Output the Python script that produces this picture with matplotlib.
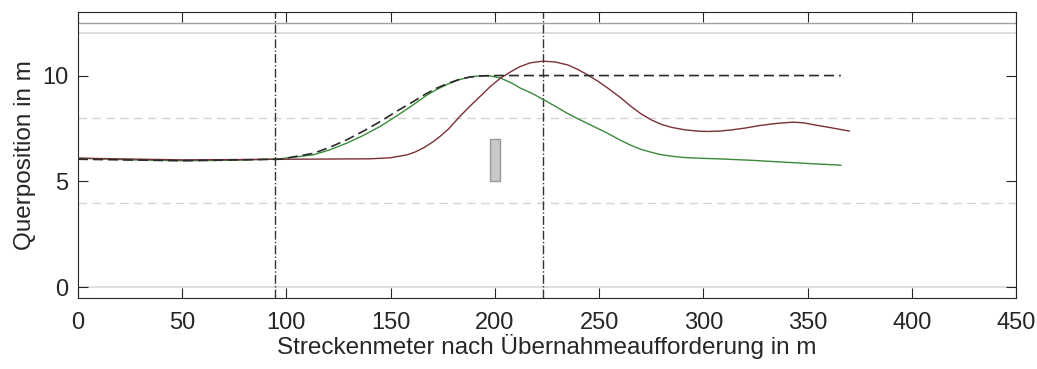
import matplotlib.pyplot as plt
from matplotlib.patches import Rectangle

plt.rcParams['font.family'] = ['Liberation Sans', 'DejaVu Sans']

## Data
# green trajectory
green_x = [0, 25, 50, 75, 97, 113, 121, 129, 137, 145, 153, 161, 167, 172, 178,
           183, 188, 193, 198, 203, 208, 212, 218, 223, 229, 234, 239, 244, 249,
           254, 260, 265, 270, 275, 279, 285, 291, 300, 307, 323, 339, 352, 366]
green_y = [6.1, 6.02, 5.98, 6.0, 6.07, 6.26, 6.5, 6.81, 7.18, 7.6, 8.1, 8.63, 9.05,
           9.34, 9.62, 9.81, 9.93, 9.99, 9.98, 9.87, 9.65, 9.42, 9.15, 8.88, 8.55,
           8.26, 8.0, 7.76, 7.52, 7.28, 6.96, 6.72, 6.52, 6.38, 6.28, 6.19, 6.13,
           6.09, 6.07, 6.0, 5.91, 5.84, 5.77]

# dashed reference trajectory
ref_x = [0, 50, 97, 113, 121, 129, 137, 145, 153, 161, 167, 172, 178, 183, 188,
         193, 198, 366]
ref_y = [6.05, 5.98, 6.05, 6.33, 6.62, 6.97, 7.38, 7.83, 8.32, 8.78, 9.14, 9.4,
         9.65, 9.82, 9.93, 9.98, 10.0, 10.0]

# red trajectory
red_x = [0, 50, 100, 140, 150, 158, 162, 166, 170, 174, 178, 183, 188, 193, 198,
         203, 208, 212, 217, 223, 229, 235, 240, 244, 249, 254, 260, 265, 270,
         275, 280, 285, 291, 297, 302, 308, 314, 320, 327, 335, 343, 348, 354,
         360, 365, 370]
red_y = [6.1, 6.02, 6.05, 6.07, 6.12, 6.26, 6.4, 6.6, 6.85, 7.15, 7.5, 8.05, 8.55,
         9.02, 9.5, 9.9, 10.2, 10.42, 10.6, 10.68, 10.64, 10.5, 10.28, 10.06,
         9.76, 9.42, 8.98, 8.57, 8.2, 7.91, 7.69, 7.55, 7.44, 7.38, 7.36, 7.38,
         7.44, 7.52, 7.64, 7.74, 7.8, 7.77, 7.66, 7.56, 7.47, 7.38]

# lane markings
lane_dashed = [4, 8]
lane_solid = [0, 12]
road_edge = 12.5

# event markers (x) and obstacle
events_x = [94.5, 223]
obstacle = (197.5, 5.0, 5.0, 2.0)  # x, y, width, height

## Plotting
fig = plt.figure(figsize=(10.37, 3.69), dpi=100)
ax = fig.add_axes([0.0752, 0.1924, 0.9045, 0.7751])

for y in lane_dashed:
    ax.axhline(y, color='#d4d4d4', lw=1.0, ls=(0, (6, 4)), zorder=1)
for y in lane_solid:
    ax.axhline(y, color='#d8d8d8', lw=1.2, zorder=1)
ax.axhline(road_edge, color='#a0a0a0', lw=1.0, zorder=1)

for x in events_x:
    ax.axvline(x, color='#333333', lw=1.0, ls='-.', zorder=2)

ax.add_patch(Rectangle(obstacle[:2], obstacle[2], obstacle[3],
                       facecolor='#c8c8c8', edgecolor='#999999', lw=1.0, zorder=2))

ax.plot(green_x, green_y, color='#3b8a3b', lw=1.0, zorder=3)
ax.plot(ref_x, ref_y, color='#2a2a2a', lw=1.2, ls=(0, (6, 3)), zorder=4)
ax.plot(red_x, red_y, color='#7a3036', lw=1.0, zorder=3)

ax.set_xlim(0, 450)
ax.set_ylim(-0.5, 13)
ax.set_xticks(range(0, 451, 50))
ax.set_yticks([0, 5, 10])
ax.tick_params(direction='in', top=True, right=True, length=7, width=0.8,
               labelsize=17, colors='#262626', pad=7)
ax.tick_params(axis='x', pad=10)
for s in ax.spines.values():
    s.set_color('#262626')
    s.set_linewidth(0.8)

ax.set_xlabel('Streckenmeter nach Übernahmeaufforderung in m', fontsize=17.5,
              color='#262626', labelpad=0)
ax.set_ylabel('Querposition in m', fontsize=17.5, color='#262626', labelpad=4)

fig.savefig('out.png', dpi=100)
